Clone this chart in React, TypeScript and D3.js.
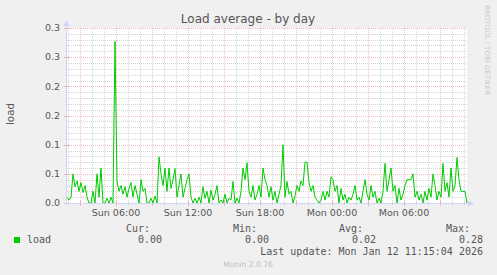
import React from "react";
import * as d3 from "d3";

// 10-minute steps starting Sun 01:55 (UTC-based), ending Mon 11:15
const startTime = Date.UTC(2026, 0, 11, 1, 55, 0);
const stepMinutes = 10;
const loadValues = [
  0.01, 0.005, 0.01, 0.05, 0.028, 0.038, 0.02, 0.035, 0.018, 0.03,
  0.01, 0.0, 0.0, 0.02, 0.0, 0.05, 0.01, 0.06, 0.0, 0.0,
  0.008, 0.0, 0.01, 0.0, 0.277, 0.038, 0.02, 0.03, 0.015, 0.028,
  0.01, 0.025, 0.035, 0.01, 0.03, 0.015, 0.0, 0.04, 0.02, 0.025,
  0.0, 0.0, 0.008, 0.0, 0.012, 0.0, 0.079, 0.05, 0.03, 0.06,
  0.02, 0.06, 0.025, 0.04, 0.059, 0.01, 0.03, 0.05, 0.01, 0.025,
  0.04, 0.05, 0.01, 0.0, 0.008, 0.0, 0.01, 0.0, 0.028, 0.008,
  0.02, 0.0, 0.022, 0.005, 0.015, 0.03, 0.0, 0.005, 0.0, 0.015,
  0.0, 0.008, 0.005, 0.037, 0.0, 0.008, 0.0, 0.02, 0.06, 0.04,
  0.069, 0.02, 0.01, 0.03, 0.005, 0.015, 0.03, 0.01, 0.06, 0.04,
  0.03, 0.01, 0.028, 0.005, 0.02, 0.0, 0.015, 0.03, 0.1, 0.01,
  0.037, 0.015, 0.02, 0.0, 0.012, 0.03, 0.02, 0.038, 0.03, 0.07,
  0.07, 0.035, 0.02, 0.03, 0.01, 0.005, 0.0, 0.005, 0.02, 0.005,
  0.02, 0.01, 0.045, 0.04, 0.02, 0.03, 0.0, 0.025, 0.005, 0.015,
  0.0, 0.01, 0.005, 0.015, 0.03, 0.005, 0.01, 0.0, 0.02, 0.04,
  0.015, 0.005, 0.03, 0.01, 0.02, 0.0, 0.008, 0.0, 0.02, 0.068,
  0.02, 0.04, 0.06, 0.02, 0.03, 0.0, 0.025, 0.005, 0.015, 0.03,
  0.04, 0.04, 0.04, 0.05, 0.01, 0.02, 0.005, 0.015, 0.0, 0.02,
  0.005, 0.025, 0.01, 0.05, 0.03, 0.005, 0.02, 0.01, 0.068, 0.02,
  0.035, 0.01, 0.06, 0.02, 0.03, 0.078, 0.04, 0.02, 0.02, 0.02,
  0.0,
];

const yMajorTicks = [0, 0.05, 0.1, 0.15, 0.2, 0.25, 0.3];
const yTickLabels = ["0.0", "0.1", "0.1", "0.2", "0.2", "0.3", "0.3"];
const seriesName = "load";
const legendHeaders = ["Cur:", "Min:", "Avg:", "Max:"];
const legendValues = ["0.00", "0.00", "0.02", "0.28"];
const lastUpdate = "Last update: Mon Jan 12 11:15:04 2026";

const W = 497;
const H = 275;
const L = 67, R = 467, T = 28, B = 203;
const AXIS = "#CFD6F8";
const GRID = "rgba(175,175,175,0.5)";
const MGRID = "rgba(235,90,90,0.42)";
const FONT = "#555555";
const SANS = "'DejaVu Sans', sans-serif";
const MONO = "'DejaVu Sans Mono', monospace";

export default function App() {
  const times = loadValues.map((_, i) => new Date(startTime + i * stepMinutes * 60000));
  const x = d3.scaleUtc().domain([times[0], times[times.length - 1]]).range([L, R]);
  const y = d3.scaleLinear().domain([0, 0.3]).range([B, T]);

  const hours = d3.utcHour.range(times[0], times[times.length - 1]);
  const minorX = hours.filter((d) => d.getUTCHours() % 3 !== 0);
  const majorX = hours.filter((d) => d.getUTCHours() % 3 === 0);
  const labelX = hours.filter((d) => d.getUTCHours() % 6 === 0);
  const fmt = d3.utcFormat("%a %H:%M");

  const minorY = d3.range(1, 30).filter((k) => k % 5 !== 0).map((k) => k / 100);

  const line = d3
    .line<number>()
    .x((_, i) => x(times[i]))
    .y((d) => y(d));

  const legendCols = [150, 257, 363, 470];
  const valueCols = [162, 269, 376, 483];

  return (
    <svg width={W} height={H} style={{ display: "block", position: "absolute", left: 0, top: 0 }}>
      <rect x={0} y={0} width={W} height={H} fill="#F0F0F0" />
      <rect x={L} y={T} width={R - L} height={B - T} fill="#FFFFFF" />

      {/* minor grid */}
      <g stroke={GRID} strokeWidth={1} strokeDasharray="1,1" shapeRendering="crispEdges">
        {minorX.map((d, i) => (
          <line key={"mx" + i} x1={Math.round(x(d)) + 0.5} x2={Math.round(x(d)) + 0.5} y1={T} y2={B} />
        ))}
        {minorY.map((v, i) => (
          <line key={"my" + i} x1={L} x2={R} y1={Math.round(y(v)) + 0.5} y2={Math.round(y(v)) + 0.5} />
        ))}
      </g>
      {/* major grid */}
      <g stroke={MGRID} strokeWidth={1} strokeDasharray="1,1" shapeRendering="crispEdges">
        {majorX.map((d, i) => (
          <line key={"Mx" + i} x1={Math.round(x(d)) + 0.5} x2={Math.round(x(d)) + 0.5} y1={T} y2={B} />
        ))}
        {yMajorTicks.slice(1).map((v, i) => (
          <line key={"My" + i} x1={L} x2={R} y1={Math.round(y(v)) + 0.5} y2={Math.round(y(v)) + 0.5} />
        ))}
      </g>
      {/* axis ticks */}
      <g strokeWidth={1} shapeRendering="crispEdges">
        {minorX.map((d, i) => (
          <line key={"tx" + i} stroke={GRID} x1={Math.round(x(d)) + 0.5} x2={Math.round(x(d)) + 0.5} y1={B - 1} y2={B + 2} />
        ))}
        {majorX.map((d, i) => (
          <line key={"Tx" + i} stroke={MGRID} x1={Math.round(x(d)) + 0.5} x2={Math.round(x(d)) + 0.5} y1={B - 2} y2={B + 3} />
        ))}
        {yMajorTicks.map((v, i) => (
          <line key={"Ty" + i} stroke={MGRID} x1={L - 3} x2={L + 2} y1={Math.round(y(v)) + 0.5} y2={Math.round(y(v)) + 0.5} />
        ))}
      </g>

      {/* data line */}
      <path d={line(loadValues) || ""} fill="none" stroke="#00CC00" strokeWidth={1} />

      {/* axes */}
      <g stroke={AXIS} strokeWidth={1} shapeRendering="crispEdges">
        <line x1={L - 0.5} x2={L - 0.5} y1={B + 1} y2={T - 4} />
        <line x1={L - 2} x2={R + 2} y1={B + 0.5} y2={B + 0.5} />
      </g>
      <path d={`M${L - 3.5},${T - 2} L${L - 0.5},${T - 8} L${L + 2.5},${T - 2} Z`} fill={AXIS} />
      <path d={`M${R + 1},${B - 2.5} L${R + 7},${B + 0.5} L${R + 1},${B + 3.5} Z`} fill={AXIS} />

      {/* y tick labels */}
      {yMajorTicks.map((v, i) => (
        <text key={"yl" + i} x={60} y={y(v)} dy="0.35em" textAnchor="end" fontFamily={SANS} fontSize={9.5} fill={FONT}>
          {yTickLabels[i]}
        </text>
      ))}
      {/* x tick labels */}
      {labelX.map((d, i) => (
        <text key={"xl" + i} x={x(d)} y={216} textAnchor="middle" fontFamily={SANS} fontSize={9.5} fill={FONT}>
          {fmt(d)}
        </text>
      ))}

      {/* title */}
      <text x={248} y={23} textAnchor="middle" fontFamily={SANS} fontSize={12} fill={FONT}>
        Load average - by day
      </text>
      {/* y label */}
      <text transform="translate(14,114) rotate(-90)" textAnchor="middle" fontFamily={SANS} fontSize={10.3} fill={FONT}>
        load
      </text>
      {/* watermark */}
      <text transform="translate(485,5) rotate(90)" textAnchor="start" fontFamily={SANS} fontSize={7} fill="#C8C8C8">
        RRDTOOL / TOBI OETIKER
      </text>

      {/* legend */}
      {legendHeaders.map((h, i) => (
        <text key={"lh" + i} x={legendCols[i]} y={232} textAnchor="end" fontFamily={MONO} fontSize={10} fill={FONT}>
          {h}
        </text>
      ))}
      <rect x={14} y={237} width={6} height={6} fill="#00CC00" />
      <text x={27} y={243} fontFamily={MONO} fontSize={10} fill={FONT}>
        {seriesName}
      </text>
      {legendValues.map((v, i) => (
        <text key={"lv" + i} x={valueCols[i]} y={243} textAnchor="end" fontFamily={MONO} fontSize={10} fill={FONT}>
          {v}
        </text>
      ))}
      <text x={483} y={255} textAnchor="end" fontFamily={MONO} fontSize={10} fill={FONT}>
        {lastUpdate}
      </text>
      <text x={248} y={267} textAnchor="middle" fontFamily={SANS} fontSize={7.6} fill="#C0C0C0">
        Munin 2.0.76
      </text>
    </svg>
  );
}
